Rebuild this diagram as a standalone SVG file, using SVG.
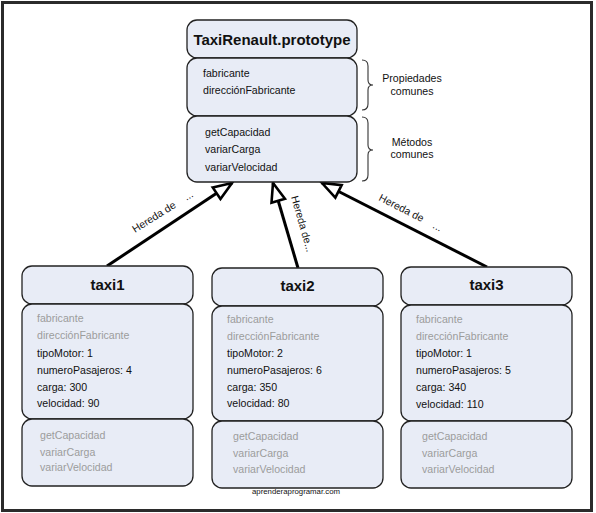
<svg xmlns="http://www.w3.org/2000/svg" width="596" height="513" viewBox="0 0 596 513">
<defs>
<style>
.box{fill:#e8ecf6;stroke:#222;stroke-width:1.3}
.t{font-family:"Liberation Sans",Arial,sans-serif;font-size:10.6px;fill:#111}
.g{fill:#9c9c9c}
.h{font-family:"Liberation Sans",Arial,sans-serif;font-size:15px;font-weight:bold;fill:#111;text-anchor:middle}
.lbl{font-family:"Liberation Sans",Arial,sans-serif;font-size:10.5px;fill:#111;white-space:pre}
.conn{stroke:#000;stroke-width:3;fill:none;marker-end:url(#tri)}
.brace{fill:none;stroke:#333;stroke-width:1.1}
</style>
<marker id="tri" markerUnits="userSpaceOnUse" markerWidth="30" markerHeight="24" refX="19.5" refY="12" orient="auto" viewBox="0 0 30 24" overflow="visible">
<path d="M1,5 L19.5,12 L1,19 Z" fill="#fff" stroke="#000" stroke-width="2.6"/>
</marker>
</defs>
<rect x="0" y="0" width="596" height="513" fill="#fff"/>
<rect x="2.5" y="2.5" width="589" height="508" fill="none" stroke="#2b2b2b" stroke-width="3"/>

<g id="connectors">
<line class="conn" x1="107" y1="266" x2="232" y2="183"/>
<line class="conn" x1="298" y1="268" x2="273" y2="183"/>
<line class="conn" x1="487" y1="267" x2="322" y2="183"/>
<text class="lbl" xml:space="preserve" transform="translate(135,233) rotate(-32)">Hereda de    ...</text>
<text class="lbl" transform="translate(291,197) rotate(74)">Hereda de...</text>
<text class="lbl" xml:space="preserve" transform="translate(378,200) rotate(27)">Hereda de    ...</text>
</g>

<g id="prototype">
<rect class="box" x="187" y="20" width="170" height="38" rx="10"/>
<text class="h" x="272" y="44.5">TaxiRenault.prototype</text>
<rect class="box" x="187" y="58" width="170" height="58" rx="10"/>
<text class="t" x="203" y="76.5">fabricante</text>
<text class="t" x="203" y="94">direcciónFabricante</text>
<rect class="box" x="187" y="116" width="170" height="66" rx="10"/>
<text class="t" x="205" y="135.5">getCapacidad</text>
<text class="t" x="205" y="153">variarCarga</text>
<text class="t" x="205" y="170.5">variarVelocidad</text>
</g>

<g id="annotations">
<path class="brace" d="M362,60 Q368,60 368,66 L368,80 Q368,85 373,85 Q368,85 368,90 L368,104 Q368,110 362,110"/>
<text class="t" x="412" y="82" text-anchor="middle">Propiedades</text>
<text class="t" x="412" y="94.5" text-anchor="middle">comunes</text>
<path class="brace" d="M362,117 Q368,117 368,123 L368,145 Q368,150 373,150 Q368,150 368,155 L368,175 Q368,181 362,181"/>
<text class="t" x="412" y="146" text-anchor="middle">Métodos</text>
<text class="t" x="412" y="158" text-anchor="middle">comunes</text>
</g>

<g id="taxi1">
<rect class="box" x="22" y="266" width="171" height="38" rx="10"/>
<text class="h" x="107.5" y="290">taxi1</text>
<rect class="box" x="22" y="304" width="171" height="115" rx="10"/>
<text class="t g" x="37" y="322">fabricante</text>
<text class="t g" x="37" y="339">direcciónFabricante</text>
<text class="t" x="37" y="357">tipoMotor: 1</text>
<text class="t" x="37" y="374">numeroPasajeros: 4</text>
<text class="t" x="37" y="391">carga: 300</text>
<text class="t" x="37" y="407">velocidad: 90</text>
<rect class="box" x="22" y="419" width="171" height="67" rx="10"/>
<text class="t g" x="40" y="439">getCapacidad</text>
<text class="t g" x="40" y="456">variarCarga</text>
<text class="t g" x="40" y="471">variarVelocidad</text>
</g>

<g id="taxi2">
<rect class="box" x="212" y="268" width="171" height="38" rx="10"/>
<text class="h" x="297.5" y="291">taxi2</text>
<rect class="box" x="212" y="306" width="171" height="115" rx="10"/>
<text class="t g" x="227" y="323">fabricante</text>
<text class="t g" x="227" y="340">direcciónFabricante</text>
<text class="t" x="227" y="357">tipoMotor: 2</text>
<text class="t" x="227" y="374">numeroPasajeros: 6</text>
<text class="t" x="227" y="391">carga: 350</text>
<text class="t" x="227" y="407">velocidad: 80</text>
<rect class="box" x="212" y="421" width="171" height="67" rx="10"/>
<text class="t g" x="233" y="440">getCapacidad</text>
<text class="t g" x="233" y="457">variarCarga</text>
<text class="t g" x="233" y="473">variarVelocidad</text>
</g>

<g id="taxi3">
<rect class="box" x="401" y="267" width="171" height="38" rx="10"/>
<text class="h" x="486.5" y="290">taxi3</text>
<rect class="box" x="401" y="305" width="171" height="116" rx="10"/>
<text class="t g" x="416" y="323">fabricante</text>
<text class="t g" x="416" y="340">direcciónFabricante</text>
<text class="t" x="416" y="357">tipoMotor: 1</text>
<text class="t" x="416" y="374">numeroPasajeros: 5</text>
<text class="t" x="416" y="391">carga: 340</text>
<text class="t" x="416" y="408">velocidad: 110</text>
<rect class="box" x="401" y="421" width="171" height="67" rx="10"/>
<text class="t g" x="422" y="440">getCapacidad</text>
<text class="t g" x="422" y="457">variarCarga</text>
<text class="t g" x="422" y="473">variarVelocidad</text>
</g>

<text x="252" y="494" font-family="'Liberation Sans',Arial,sans-serif" font-size="7.8" fill="#111">aprenderaprogramar.com</text>
</svg>
